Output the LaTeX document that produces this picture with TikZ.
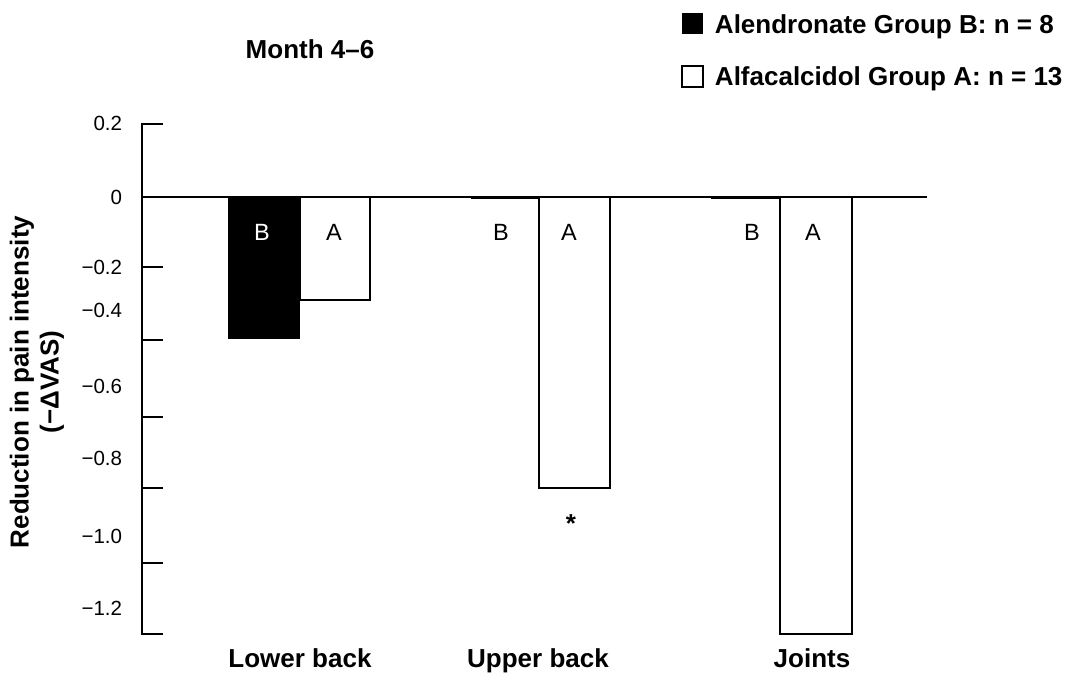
\documentclass[tikz,border=0pt]{standalone}
\usepackage{fontspec}
\setmainfont{Liberation Sans}
\begin{document}
\begin{tikzpicture}[x=1pt, y=-1pt, line width=1.3pt,
    lbl/.style={font=\fontsize{26}{30}\selectfont\bfseries},
    tck/.style={font=\fontsize{20.5}{24}\selectfont, anchor=east},
    grp/.style={font=\fontsize{23.5}{27}\selectfont}]
\useasboundingbox (0,0) rectangle (1077,673);
% axis and ticks
\draw (163,124) -- (142,124) -- (142,634) -- (163,634);
\foreach \y in {267, 340, 417, 488, 563}
    {\draw (142,\y) -- (163,\y);};
\foreach \y/\t in {123/0.2, 197/0, 267/−0.2, 310/−0.4, 386/−0.6, 458/−0.8, 536/−1.0, 608/−1.2}
    {\node[tck] (tick\y) at (126,\y) {\t};};
\node[lbl, rotate=90, align=center] (ylabel) at (37,382) {Reduction in pain intensity\\(−ΔVAS)};
\draw (142,197) -- (927,197);
% bars
\fill (228,197) rectangle (300,339);
\draw[fill=white] (300,197) rectangle (370,300);
\draw[line width=3pt] (471,197) -- (539,197);
\draw[fill=white] (539,197) rectangle (610,488);
\draw[line width=3pt] (711,197) -- (780,197);
\draw[fill=white] (780,197) rectangle (852,634);
\node[grp, white] (lowB) at (262,232) {B};
\node[grp] (lowA) at (334,232) {A};
\node[grp] (upB) at (501,232) {B};
\node[grp] (upA) at (569,232) {A};
\node[grp] (jntB) at (752,232) {B};
\node[grp] (jntA) at (813,232) {A};
\node[lbl] (star) at (571,524) {*};
% categories
\node[lbl, anchor=base] (lower) at (300,667) {Lower back};
\node[lbl, anchor=base] (upper) at (538,667) {Upper back};
\node[lbl, anchor=base] (joints) at (812,667) {Joints};
\node[lbl, anchor=base] (month) at (310,58) {Month 4–6};
% legend
\fill (682,13) rectangle (703,34);
\draw (682,66) rectangle (703,87);
\node[lbl, anchor=base west] (legB) at (711,33) {Alendronate Group B: n = 8};
\node[lbl, anchor=base west] (legA) at (711,85) {Alfacalcidol Group A: n = 13};
\end{tikzpicture}
\end{document}
